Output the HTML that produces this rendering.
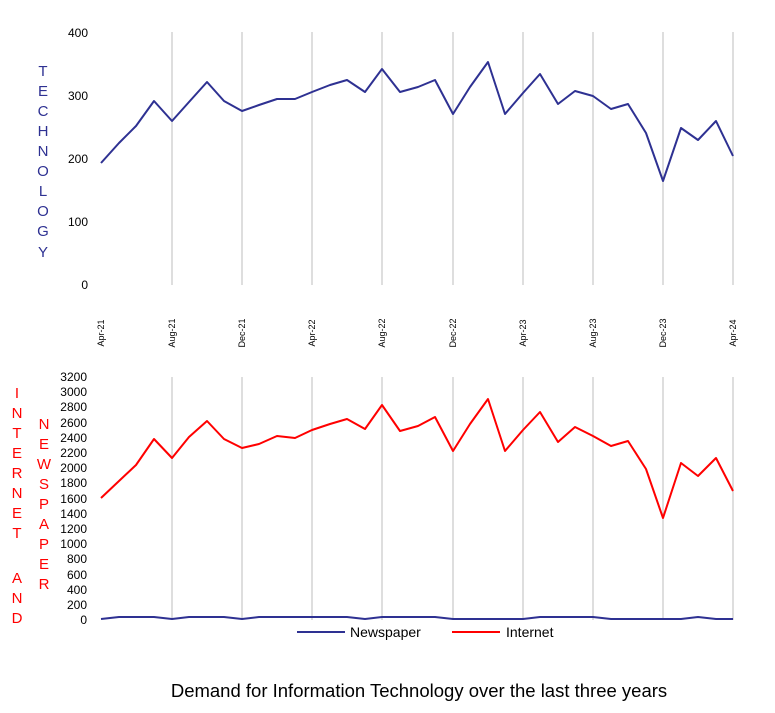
<!DOCTYPE html>
<html><head><meta charset="utf-8"><style>
body{margin:0;background:#fff;}
svg{display:block;font-family:"Liberation Sans",Arial,sans-serif;}
</style></head><body>
<svg width="775" height="713" viewBox="0 0 775 713" xmlns="http://www.w3.org/2000/svg">
<g stroke="#c8c8c8" stroke-width="1.2">
<line x1="172" y1="32" x2="172" y2="285"/><line x1="242" y1="32" x2="242" y2="285"/><line x1="312" y1="32" x2="312" y2="285"/><line x1="382" y1="32" x2="382" y2="285"/><line x1="453" y1="32" x2="453" y2="285"/><line x1="523" y1="32" x2="523" y2="285"/><line x1="593" y1="32" x2="593" y2="285"/><line x1="663" y1="32" x2="663" y2="285"/><line x1="733" y1="32" x2="733" y2="285"/>
<line x1="172" y1="377" x2="172" y2="620"/><line x1="242" y1="377" x2="242" y2="620"/><line x1="312" y1="377" x2="312" y2="620"/><line x1="382" y1="377" x2="382" y2="620"/><line x1="453" y1="377" x2="453" y2="620"/><line x1="523" y1="377" x2="523" y2="620"/><line x1="593" y1="377" x2="593" y2="620"/><line x1="663" y1="377" x2="663" y2="620"/><line x1="733" y1="377" x2="733" y2="620"/>
</g>
<g font-size="12" fill="#000" text-anchor="end">
<text x="88" y="37">400</text><text x="88" y="100">300</text><text x="88" y="163">200</text><text x="88" y="226">100</text><text x="88" y="289">0</text>
</g>
<g font-size="12" fill="#000" text-anchor="end">
<text x="87" y="381">3200</text><text x="87" y="396">3000</text><text x="87" y="411">2800</text><text x="87" y="427">2600</text><text x="87" y="442">2400</text><text x="87" y="457">2200</text><text x="87" y="472">2000</text><text x="87" y="487">1800</text><text x="87" y="503">1600</text><text x="87" y="518">1400</text><text x="87" y="533">1200</text><text x="87" y="548">1000</text><text x="87" y="563">800</text><text x="87" y="579">600</text><text x="87" y="594">400</text><text x="87" y="609">200</text><text x="87" y="624">0</text>
</g>
<g font-size="9" fill="#000" text-anchor="middle">
<text transform="translate(104,333) rotate(-90)">Apr-21</text>
<text transform="translate(175,333) rotate(-90)">Aug-21</text>
<text transform="translate(245,333) rotate(-90)">Dec-21</text>
<text transform="translate(315,333) rotate(-90)">Apr-22</text>
<text transform="translate(385,333) rotate(-90)">Aug-22</text>
<text transform="translate(456,333) rotate(-90)">Dec-22</text>
<text transform="translate(526,333) rotate(-90)">Apr-23</text>
<text transform="translate(596,333) rotate(-90)">Aug-23</text>
<text transform="translate(666,333) rotate(-90)">Dec-23</text>
<text transform="translate(736,333) rotate(-90)">Apr-24</text>
</g>
<polyline fill="none" stroke="#2e3192" stroke-width="2" stroke-linejoin="round" points="101,163 119,143 136,126 154,101 172,121 189,102 207,82 224,101 242,111 259,105 277,99 295,99 312,92 330,85 347,80 365,92 382,69 400,92 418,87 435,80 453,114 470,87 488,62 505,114 523,93 540,74 558,104 575,91 593,96 611,109 628,104 646,133 663,181 681,128 698,140 716,121 733,156"/>
<polyline fill="none" stroke="#ff0000" stroke-width="2" stroke-linejoin="round" points="101,498 119,481 136,465 154,439 172,458 189,437 207,421 224,439 242,448 259,444 277,436 295,438 312,430 330,424 347,419 365,429 382,405 400,431 418,426 435,417 453,451 470,424 488,399 505,451 523,430 540,412 558,442 575,427 593,436 611,446 628,441 646,469 663,518 681,463 698,476 716,458 733,491"/>
<polyline fill="none" stroke="#2e3192" stroke-width="2" stroke-linejoin="round" points="101,619 119,617 136,617 154,617 172,619 189,617 207,617 224,617 242,619 259,617 277,617 295,617 312,617 330,617 347,617 365,619 382,617 400,617 418,617 435,617 453,619 470,619 488,619 505,619 523,619 540,617 558,617 575,617 593,617 611,619 628,619 646,619 663,619 681,619 698,617 716,619 733,619"/>
<g font-size="15" fill="#2e3192" text-anchor="middle">
<text x="43" y="76">T</text><text x="43" y="96">E</text><text x="43" y="116">C</text><text x="43" y="136">H</text><text x="43" y="156">N</text><text x="43" y="176">O</text><text x="43" y="196">L</text><text x="43" y="216">O</text><text x="43" y="236">G</text><text x="43" y="257">Y</text>
</g>
<g font-size="15" fill="#ff0000" text-anchor="middle">
<text x="17" y="398">I</text><text x="17" y="418">N</text><text x="17" y="438">T</text><text x="17" y="458">E</text><text x="17" y="478">R</text><text x="17" y="498">N</text><text x="17" y="518">E</text><text x="17" y="538">T</text>
<text x="17" y="583">A</text><text x="17" y="603">N</text><text x="17" y="623">D</text>
<text x="44" y="429">N</text><text x="44" y="449">E</text><text x="44" y="469">W</text><text x="44" y="489">S</text><text x="44" y="509">P</text><text x="44" y="529">A</text><text x="44" y="549">P</text><text x="44" y="569">E</text><text x="44" y="589">R</text>
</g>
<line x1="297" y1="632" x2="345" y2="632" stroke="#2e3192" stroke-width="2"/>
<text x="350" y="637" font-size="14" fill="#000">Newspaper</text>
<line x1="452" y1="632" x2="500" y2="632" stroke="#ff0000" stroke-width="2"/>
<text x="506" y="637" font-size="14" fill="#000">Internet</text>
<text x="419" y="697" font-size="18.5" fill="#000" text-anchor="middle">Demand for Information Technology over the last three years</text>
</svg>
</body></html>
